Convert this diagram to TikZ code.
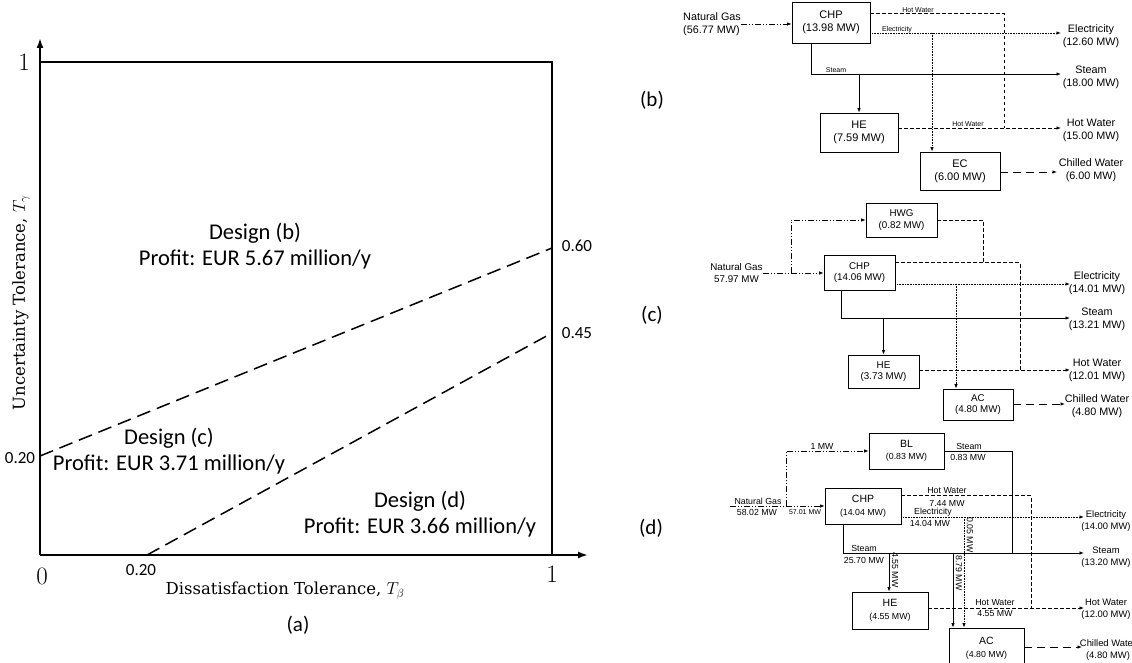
\documentclass[tikz,border=0pt]{standalone}
\usepackage{fontspec}
\newfontfamily\arialfont{Liberation Sans}
\newfontfamily\calfont{Carlito}
\newfontfamily\titlefont{DejaVu Serif}
\usetikzlibrary{arrows.meta}
\newcommand\bnm[1]{{\fontsize{10.5}{12}\selectfont #1}}
\begin{document}
\begin{tikzpicture}[x=1pt,y=-1pt,
  every node/.style={inner sep=0pt},
  axisline/.style={line width=1.8pt,-{Latex[length=10pt,width=7pt]}},
  frame/.style={line width=2.4pt},
  bound/.style={line width=1.5pt, dash pattern=on 14pt off 7pt},
  big/.style={font=\calfont\fontsize{22.5}{26}\selectfont, align=center},
  tick/.style={font=\calfont\fontsize{17}{20}\selectfont},
  serifnum/.style={font=\fontsize{25}{28}\selectfont},
  ttl/.style={font=\titlefont\fontsize{16.5}{20}\selectfont},
  panel/.style={font=\calfont\fontsize{21}{24}\selectfont},
  flow/.style={line width=0.8pt},
  arr/.style={-{Latex[length=4.5pt,width=3.5pt]}},
  gas/.style={flow, dash pattern=on 6pt off 2pt on 1pt off 2pt on 1pt off 2pt},
  hw/.style={flow, dash pattern=on 3.5pt off 2.5pt},
  el/.style={flow, dash pattern=on 0.8pt off 0.8pt},
  st/.style={flow},
  cw/.style={flow, dash pattern=on 8pt off 5pt},
  boxb/.style={draw, line width=0.8pt, align=center, font=\arialfont\fontsize{11}{13}\selectfont},
  boxc/.style={draw, line width=0.8pt, align=center, font=\arialfont\fontsize{9.8}{11.5}\selectfont},
  boxd/.style={draw, line width=0.8pt, align=center, font=\arialfont\fontsize{8.8}{12.5}\selectfont},
  outb/.style={align=center, font=\arialfont\fontsize{10.8}{13}\selectfont},
  outd/.style={align=center, font=\arialfont\fontsize{9.4}{12}\selectfont},
  tinyb/.style={font=\arialfont\fontsize{7}{8}\selectfont},
  smalld/.style={font=\arialfont\fontsize{8.8}{10}\selectfont},
  tinyd/.style={font=\arialfont\fontsize{7}{8}\selectfont},
]
\useasboundingbox (0,0) rectangle (1132,663);

% ================= (a) =================
\coordinate (O) at (40,555);
\coordinate (Xend) at (588,555);
\coordinate (Yend) at (40,38);
\coordinate (TL) at (40,62);
\coordinate (TR) at (552,62);
\coordinate (BR) at (552,555);
\draw[axisline] (O) -- (Xend);
\draw[axisline] (O) -- (Yend);
\draw[frame] (TL) -- (TR) -- (BR);
\coordinate (pL) at (40,456);
\coordinate (pR1) at (552,248);
\coordinate (pB) at (147,555);
\coordinate (pR2) at (552,333);
\draw[bound] (pL) -- (pR1);
\draw[bound] (pB) -- (pR2);

\node[serifnum] (y1) at (24,62) {1};
\node[serifnum] (x0) at (42,576) {0};
\node[serifnum] (x1) at (552,574) {1};
\node[tick] (t060) at (577,246) {0.60};
\node[tick] (t045) at (577,333) {0.45};
\node[tick] (t020l) at (20,458) {0.20};
\node[tick] (t020b) at (141,570) {0.20};
\node[ttl] (xlab) at (285,591) {Dissatisfaction Tolerance, $T_\beta$};
\node[ttl, rotate=90] (ylab) at (21,303) {Uncertainty Tolerance, $T_\gamma$};
\node[panel] (pa) at (298,625) {(a)};
\node[big] (db) at (255,246) {Design (b)\\Profit: EUR 5.67 million/y};
\node[big] (dc) at (169,451.5) {Design (c)\\Profit: EUR 3.71 million/y};
\node[big] (dd) at (420,514.5) {Design (d)\\Profit: EUR 3.66 million/y};

% ================= (b) =================
\node[panel] (pb) at (652,100) {(b)};
\node[boxb, minimum width=78pt, minimum height=41pt] (CHPb) at (831,22.5) {CHP\\(13.98 MW)};
\node[boxb, minimum width=78pt, minimum height=39pt] (HEb) at (859,132.5) {HE\\(7.59 MW)};
\node[boxb, minimum width=80pt, minimum height=38pt] (ECb) at (960,171) {EC\\(6.00 MW)};
\node[outb, anchor=west, align=left] (NGb) at (683,24) {Natural Gas\\(56.77 MW)};
\draw[gas,arr] (NGb.east) -- (NGb.east -| CHPb.west);

\coordinate (hwbj) at (1004,128);
\draw[hw] ([yshift=-12pt]CHPb.north east) -| (hwbj);
\node[tinyb] (lhwb1) at (918,10) {Hot Water};

\coordinate (elb) at (1061,33);
\coordinate (elbj) at (932,33);
\draw[el,arr] (CHPb.east |- elb) -- (elb);
\draw[el,arr] (elbj) -- (elbj |- ECb.north);
\node[tinyb] (lelb) at (897,30) {Electricity};

\coordinate (stb) at (1061,74);
\coordinate (stbj) at (859,74);
\draw[st,arr] ([xshift=-20pt]CHPb.south) |- (stb);
\draw[st,arr] (stbj) -- (HEb.north);
\node[tinyb] (lstb) at (836,70) {Steam};

\coordinate (hwb) at (1061,128);
\draw[hw,arr] (HEb.east |- hwb) -- (hwb);
\node[tinyb] (lhwb2) at (968,124) {Hot Water};

\coordinate (cwb) at (1057,172);
\draw[cw,arr] (ECb.east |- cwb) -- (cwb);

\node[outb] (oelb) at (1091,36) {Electricity\\(12.60 MW)};
\node[outb] (ostb) at (1091,77) {Steam\\(18.00 MW)};
\node[outb] (ohwb) at (1091,130) {Hot Water\\(15.00 MW)};
\node[outb] (ocwb) at (1091,170) {Chilled Water\\(6.00 MW)};

% ================= (c) =================
\node[panel] (pc) at (652,315) {(c)};
\node[boxc, minimum width=71pt, minimum height=34pt] (HWGc) at (901.5,220) {HWG\\(0.82 MW)};
\node[boxc, minimum width=71pt, minimum height=35pt] (CHPc) at (859.5,272.5) {CHP\\(14.06 MW)};
\node[boxc, minimum width=71pt, minimum height=33pt] (HEc) at (883.5,371.5) {HE\\(3.73 MW)};
\node[boxc, minimum width=70pt, minimum height=31pt] (ACc) at (978,404.5) {AC\\(4.80 MW)};
\node[boxc, draw=none, anchor=east] (NGc) at (763,273) {Natural Gas\\57.97 MW};
\draw[gas,arr] (NGc.east) -- (NGc.east -| CHPc.west);
\coordinate (gcj) at (791,273);
\draw[gas,arr] (gcj) |- (HWGc.west);

\coordinate (hwgj) at (983,263);
\draw[hw] (HWGc.east) -| (hwgj);
\coordinate (hwcj) at (1020,370);
\draw[hw] ([yshift=-8pt]CHPc.north east) -| (hwcj);

\coordinate (elc) at (1070,284);
\coordinate (elcj) at (956,284);
\draw[el,arr] (CHPc.east |- elc) -- (elc);
\draw[el,arr] (elcj) -- (elcj |- ACc.north);

\coordinate (stc) at (1070,318);
\coordinate (stcj) at (883.5,318);
\draw[st,arr] ([xshift=-18.5pt]CHPc.south) |- (stc);
\draw[st,arr] (stcj) -- (HEc.north);

\coordinate (hwc) at (1070,370);
\draw[hw,arr] (HEc.east |- hwc) -- (hwc);
\coordinate (cwc) at (1065,404);
\draw[cw,arr] (ACc.east |- cwc) -- (cwc);

\node[outb] (oelc) at (1097,283) {Electricity\\(14.01 MW)};
\node[outb] (ostc) at (1097,319) {Steam\\(13.21 MW)};
\node[outb] (ohwc) at (1097,370) {Hot Water\\(12.01 MW)};
\node[outb] (ocwc) at (1097,406) {Chilled Water\\(4.80 MW)};

% ================= (d) =================
\node[panel] (pd) at (651,528) {(d)};
\node[boxd, minimum width=75pt, minimum height=36pt] (BLd) at (906.5,451) {\bnm{BL}\\(0.83 MW)};
\node[boxd, minimum width=76pt, minimum height=36pt] (CHPd) at (863,506) {\bnm{CHP}\\(14.04 MW)};
\node[boxd, minimum width=76pt, minimum height=37pt] (HEd) at (890,610.5) {\bnm{HE}\\(4.55 MW)};
\node[boxd, minimum width=75pt, minimum height=40pt] (ACd) at (986.5,648) {\bnm{AC}\\(4.80 MW)};

\coordinate (ngd) at (730,506);
\draw[gas,arr] (ngd) -- (ngd -| CHPd.west);
\node[smalld] (lngd) at (758,501) {Natural Gas};
\node[smalld] (lngd2) at (757,512) {58.02 MW};
\node[tinyd] (lngd3) at (805,512) {57.01 MW};
\coordinate (gdj) at (786,506);
\draw[gas,arr] (gdj) |- (BLd.west);
\node[smalld] (l1mw) at (822,446) {1 MW};

\coordinate (bsj) at (1012,553);
\draw[st] (BLd.east) -| (bsj);
\node[smalld] (lbs1) at (969,446) {Steam};
\node[smalld] (lbs2) at (968,457) {0.83 MW};

\coordinate (hwdj) at (1031,608);
\draw[hw] ([yshift=-8pt]CHPd.north east) -| (hwdj);
\node[smalld] (lhwd1) at (947,491) {Hot Water};
\node[smalld] (lhwd2) at (947,503) {7.44 MW};

\coordinate (eld) at (1084,517);
\coordinate (eldj) at (964,517);
\draw[el,arr] (CHPd.east |- eld) -- (eld);
\draw[el,arr] (eldj) -- (eldj |- ACd.north);
\node[smalld] (leld1) at (933,512) {Electricity};
\node[smalld] (leld2) at (930,523) {14.04 MW};
\node[smalld, rotate=-90] (leld3) at (970,535) {0.05 MW};

\coordinate (std) at (1084,553);
\coordinate (stdj1) at (889,553);
\coordinate (stdj2) at (953,553);
\draw[st,arr] ([xshift=-20pt]CHPd.south) |- (std);
\draw[st,arr] (stdj1) -- (stdj1 |- HEd.north);
\draw[st,arr] (stdj2) -- (stdj2 |- ACd.north);
\node[smalld] (lstd1) at (864,548) {Steam};
\node[smalld] (lstd2) at (864,560) {25.70 MW};
\node[smalld, rotate=-90] (lstd3) at (895,570) {4.55 MW};
\node[smalld, rotate=-90] (lstd4) at (959,573) {8.79 MW};

\coordinate (hwd) at (1084,608);
\draw[hw,arr] (HEd.east |- hwd) -- (hwd);
\node[smalld] (lhwd3) at (995,603) {Hot Water};
\node[smalld] (lhwd4) at (995,614) {4.55 MW};

\coordinate (cwd) at (1082,647);
\draw[cw,arr] (ACd.east |- cwd) -- (cwd);

\node[outd] (oeld) at (1106,521) {Electricity\\(14.00 MW)};
\node[outd] (ostd) at (1106,557) {Steam\\(13.20 MW)};
\node[outd] (ohwd) at (1106,609) {Hot Water\\(12.00 MW)};
\node[outd] (ocwd) at (1108,650) {Chilled Water\\(4.80 MW)};
\end{tikzpicture}
\end{document}
